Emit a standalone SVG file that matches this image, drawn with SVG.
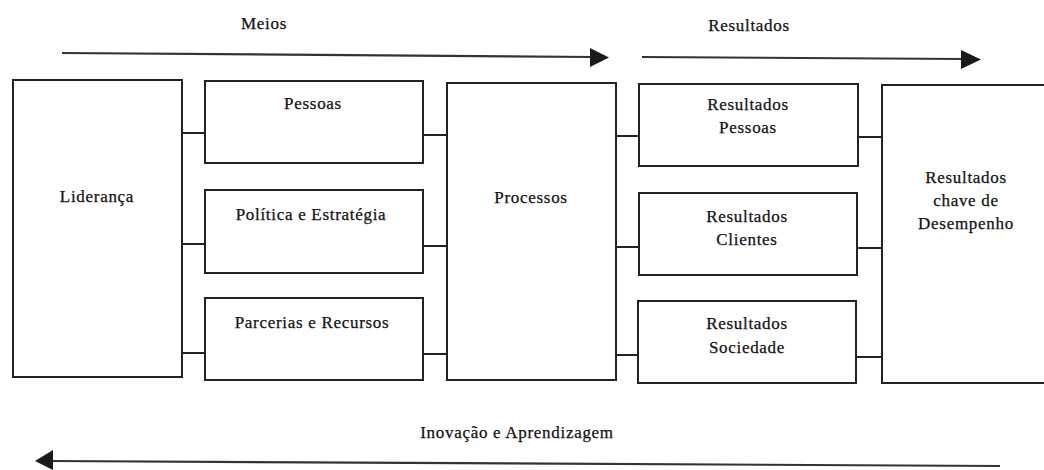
<svg xmlns="http://www.w3.org/2000/svg" width="1044" height="470" viewBox="0 0 1044 470">
  <style>
    .box { fill: #ffffff; stroke: #222222; stroke-width: 2; }
    .link { stroke: #222222; stroke-width: 2; fill: none; }
    .flow { stroke: #333333; stroke-width: 2.2; fill: none; }
    .head { fill: #1a1a1a; }
    text { font-family: "Liberation Serif", "DejaVu Serif", serif; font-size: 17px; fill: #111111; stroke: #111111; stroke-width: 0.25; text-anchor: middle; letter-spacing: 0.7px; }
  </style>
  <rect width="1044" height="470" fill="#ffffff"/>

  <!-- flow arrows -->
  <g id="flow-arrows">
    <text x="264" y="29">Meios</text>
    <line class="flow" x1="62" y1="53" x2="592" y2="57"/>
    <polygon class="head" points="590,48 609,57.5 590,67"/>

    <text x="749" y="31">Resultados</text>
    <line class="flow" x1="642" y1="57" x2="963" y2="59"/>
    <polygon class="head" points="961,50 981,59.5 961,69"/>

    <text x="517" y="438">Inovação e Aprendizagem</text>
    <line class="flow" x1="1000" y1="466" x2="52" y2="461"/>
    <polygon class="head" points="53,450 35,461 53,470"/>
  </g>

  <!-- connectors -->
  <g id="connectors">
    <line class="link" x1="182" y1="133" x2="205" y2="133"/>
    <line class="link" x1="182" y1="244" x2="205" y2="244"/>
    <line class="link" x1="182" y1="353" x2="205" y2="353"/>
    <line class="link" x1="423" y1="135" x2="447" y2="135"/>
    <line class="link" x1="423" y1="246" x2="447" y2="246"/>
    <line class="link" x1="423" y1="354" x2="447" y2="354"/>
    <line class="link" x1="616" y1="136" x2="639" y2="136"/>
    <line class="link" x1="616" y1="247" x2="639" y2="247"/>
    <line class="link" x1="616" y1="355" x2="638" y2="355"/>
    <line class="link" x1="858" y1="137" x2="882" y2="137"/>
    <line class="link" x1="857" y1="248" x2="882" y2="248"/>
    <line class="link" x1="856" y1="357" x2="882" y2="357"/>
  </g>

  <g id="lideranca">
    <rect class="box" x="13" y="80" width="169" height="297"/>
    <text x="97" y="202">Liderança</text>
  </g>

  <g id="pessoas">
    <rect class="box" x="205" y="81" width="218" height="82"/>
    <text x="313" y="109">Pessoas</text>
  </g>

  <g id="politica-estrategia">
    <rect class="box" x="205" y="190" width="218" height="83"/>
    <text x="311" y="220">Política e Estratégia</text>
  </g>

  <g id="parcerias-recursos">
    <rect class="box" x="205" y="298" width="218" height="82"/>
    <text x="312" y="328">Parcerias e Recursos</text>
  </g>

  <g id="processos">
    <rect class="box" x="447" y="83" width="169" height="297"/>
    <text x="531" y="203">Processos</text>
  </g>

  <g id="resultados-pessoas">
    <rect class="box" x="639" y="84" width="219" height="82"/>
    <text x="748" y="110">Resultados</text>
    <text x="748" y="133">Pessoas</text>
  </g>

  <g id="resultados-clientes">
    <rect class="box" x="639" y="193" width="218" height="82"/>
    <text x="747" y="222">Resultados</text>
    <text x="747" y="245">Clientes</text>
  </g>

  <g id="resultados-sociedade">
    <rect class="box" x="638" y="301" width="218" height="82"/>
    <text x="747" y="329">Resultados</text>
    <text x="747" y="353">Sociedade</text>
  </g>

  <g id="resultados-chave">
    <rect class="box" x="882" y="85" width="180" height="298"/>
    <text x="966" y="183">Resultados</text>
    <text x="966" y="206">chave de</text>
    <text x="966" y="229">Desempenho</text>
  </g>
</svg>
